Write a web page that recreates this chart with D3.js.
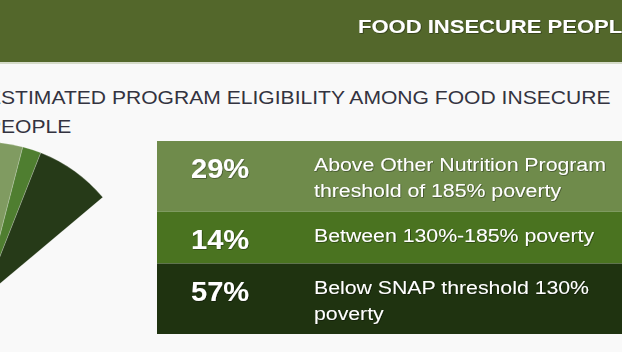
<!DOCTYPE html>
<html lang="en">
<head>
  <meta charset="utf-8" />
  <title>Food insecure people</title>
  <script src="https://d3js.org/d3.v7.min.js"></script>
  <style>
    body { margin: 0; background: #f9f9f9; }
    svg { display: block; font-family: "Liberation Sans", Arial, Helvetica, sans-serif; }
  </style>
</head>
<body>
  <div id="chart"></div>
  <script>
    // data
    var shares = [29, 14, 57];
    var shareLabels = ["29%", "14%", "57%"];
    var descriptions = [
      ["Above Other Nutrition Program", "threshold of 185% poverty"],
      ["Between 130%-185% poverty"],
      ["Below SNAP threshold 130%", "poverty"]
    ];
    var headerText = "FOOD INSECURE PEOPLE";
    var subtitleLines = ["ESTIMATED PROGRAM ELIGIBILITY AMONG FOOD INSECURE", "PEOPLE"];

    var pieColors = ["#809b61", "#4f7e30", "#263a18"];
    var rowColors = ["#6f8b4b", "#4a7320", "#1f3310"];

    var width = 622, height = 352;

    var svg = d3.select("#chart")
                .append("svg")
                .attr("width", width)
                .attr("height", height);

    // the source text is a bit wider than Liberation Sans, so stretch it
    function place(x, y, sx) {
      return "translate(" + x + "," + y + ") scale(" + sx + ",1)";
    }

    // soft shadow for white text
    var defs = svg.append("defs");
    defs.append("filter")
        .attr("id", "shadow")
        .attr("x", "-10%").attr("y", "-20%")
        .attr("width", "120%").attr("height", "140%")
      .append("feDropShadow")
        .attr("dx", 0.6).attr("dy", 0.6)
        .attr("stdDeviation", 0.6)
        .attr("flood-color", "#000")
        .attr("flood-opacity", 0.55);

    // header band
    svg.append("rect")
       .attr("x", 0).attr("y", 0)
       .attr("width", width).attr("height", 62)
       .attr("fill", "#53672b");
    svg.append("rect")
       .attr("x", 0).attr("y", 62)
       .attr("width", width).attr("height", 2)
       .attr("fill", "#d5dbc9");

    svg.append("text")
       .attr("transform", place(358, 33, 1.19))
       .attr("fill", "#fff")
       .attr("font-size", 18.5)
       .attr("font-weight", "bold")
       .attr("filter", "url(#shadow)")
       .text(headerText);

    // subtitle (runs off the left edge)
    svg.selectAll(".subtitle")
       .data(subtitleLines)
       .enter()
       .append("text")
       .attr("class", "subtitle")
       .attr("transform", function(d, i) { return place(-13, 104 + i * 29, 1.14); })
       .attr("fill", "#333340")
       .attr("font-size", 18.5)
       .text(function(d) { return d; });

    // fan-shaped pie
    var pie = d3.pie()
                .sort(null)
                .startAngle(0)
                .endAngle(50 * Math.PI / 180);
    var arc = d3.arc()
                .innerRadius(0)
                .outerRadius(155);

    svg.append("g")
       .attr("transform", "translate(-16,297)")
       .selectAll("path")
       .data(pie(shares))
       .enter()
       .append("path")
       .attr("d", arc)
       .attr("fill", function(d, i) { return pieColors[i]; })
       .attr("stroke", "rgba(255,255,255,0.35)")
       .attr("stroke-width", 0.6);

    // table rows, height follows the number of text lines
    var lineH = 26, tableTop = 141;
    var rowHeights = descriptions.map(function(d) { return 52 + (d.length - 1) * 18.5; });
    var rowTops = rowHeights.map(function(h, i) { return tableTop + d3.sum(rowHeights.slice(0, i)); });

    var rows = svg.selectAll(".row")
                  .data(shares)
                  .enter()
                  .append("g")
                  .attr("class", "row")
                  .attr("transform", function(d, i) { return "translate(157," + rowTops[i] + ")"; });

    rows.append("rect")
        .attr("width", width - 157)
        .attr("height", function(d, i) { return rowHeights[i]; })
        .attr("fill", function(d, i) { return rowColors[i]; });

    rows.append("text")
        .attr("transform", place(34, 37, 1.02))
        .attr("fill", "#fff")
        .attr("font-size", 28.5)
        .attr("font-weight", "bold")
        .attr("filter", "url(#shadow)")
        .text(function(d, i) { return shareLabels[i]; });

    rows.each(function(d, i) {
      d3.select(this).selectAll(".desc")
        .data(descriptions[i])
        .enter()
        .append("text")
        .attr("class", "desc")
        .attr("transform", function(t, j) { return place(157, 30 + j * lineH, 1.12); })
        .attr("fill", "#fff")
        .attr("font-size", 19)
        .attr("filter", "url(#shadow)")
        .text(function(t) { return t; });
    });
  </script>
</body>
</html>
